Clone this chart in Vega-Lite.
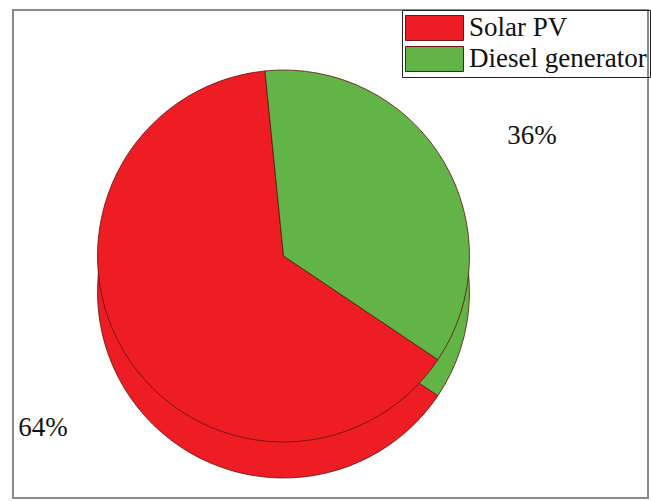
{
  "$schema": "https://vega.github.io/schema/vega-lite/v6.json",
  "width": 651,
  "height": 501,
  "autosize": {"type": "fit", "contains": "padding"},
  "padding": {"left": 13, "top": 10, "right": 3, "bottom": 3},
  "background": "white",
  "view": {"stroke": "#8c8c8c", "strokeWidth": 2},
  "data": {"values": [
    {"source": "Solar PV", "value": 64, "label": "64%"},
    {"source": "Diesel generator", "value": 36, "label": "36%"}
  ]},
  "encoding": {
    "theta": {"field": "value", "type": "quantitative", "stack": true, "scale": {"range": [-0.1, 6.1832]}},
    "order": {"field": "source", "sort": "ascending"},
    "color": {
      "field": "source", "type": "nominal",
      "scale": {"domain": ["Solar PV", "Diesel generator"], "range": ["#EE1D23", "#62B446"]},
      "legend": {
        "title": null, "orient": "none", "legendX": 389, "legendY": 0,
        "symbolType": "M-1,-0.86H3V0.86H-1Z", "symbolSize": 841,
        "symbolStrokeColor": "#6b1010", "symbolStrokeWidth": 1, "symbolOpacity": 1,
        "labelFont": "Liberation Serif", "labelFontSize": 27, "labelColor": "#111",
        "labelLimit": 400, "labelOffset": 34,
        "rowPadding": 1, "padding": 3, "strokeColor": "#222"
      }
    }
  },
  "layer": [
    {"mark": {"type": "arc", "outerRadius": 186, "xOffset": -47, "yOffset": 38, "stroke": "#5a1414", "strokeWidth": 0.8}},
    {"mark": {"type": "arc", "outerRadius": 186, "xOffset": -47, "yOffset": 2, "stroke": "#5a1414", "strokeWidth": 0.8}},
    {
      "mark": {"type": "text", "radius": 285, "dx": -43, "dy": 28, "font": "Liberation Serif", "fontSize": 27},
      "encoding": {"text": {"field": "label"}, "color": {"value": "#111"}}
    }
  ]
}
